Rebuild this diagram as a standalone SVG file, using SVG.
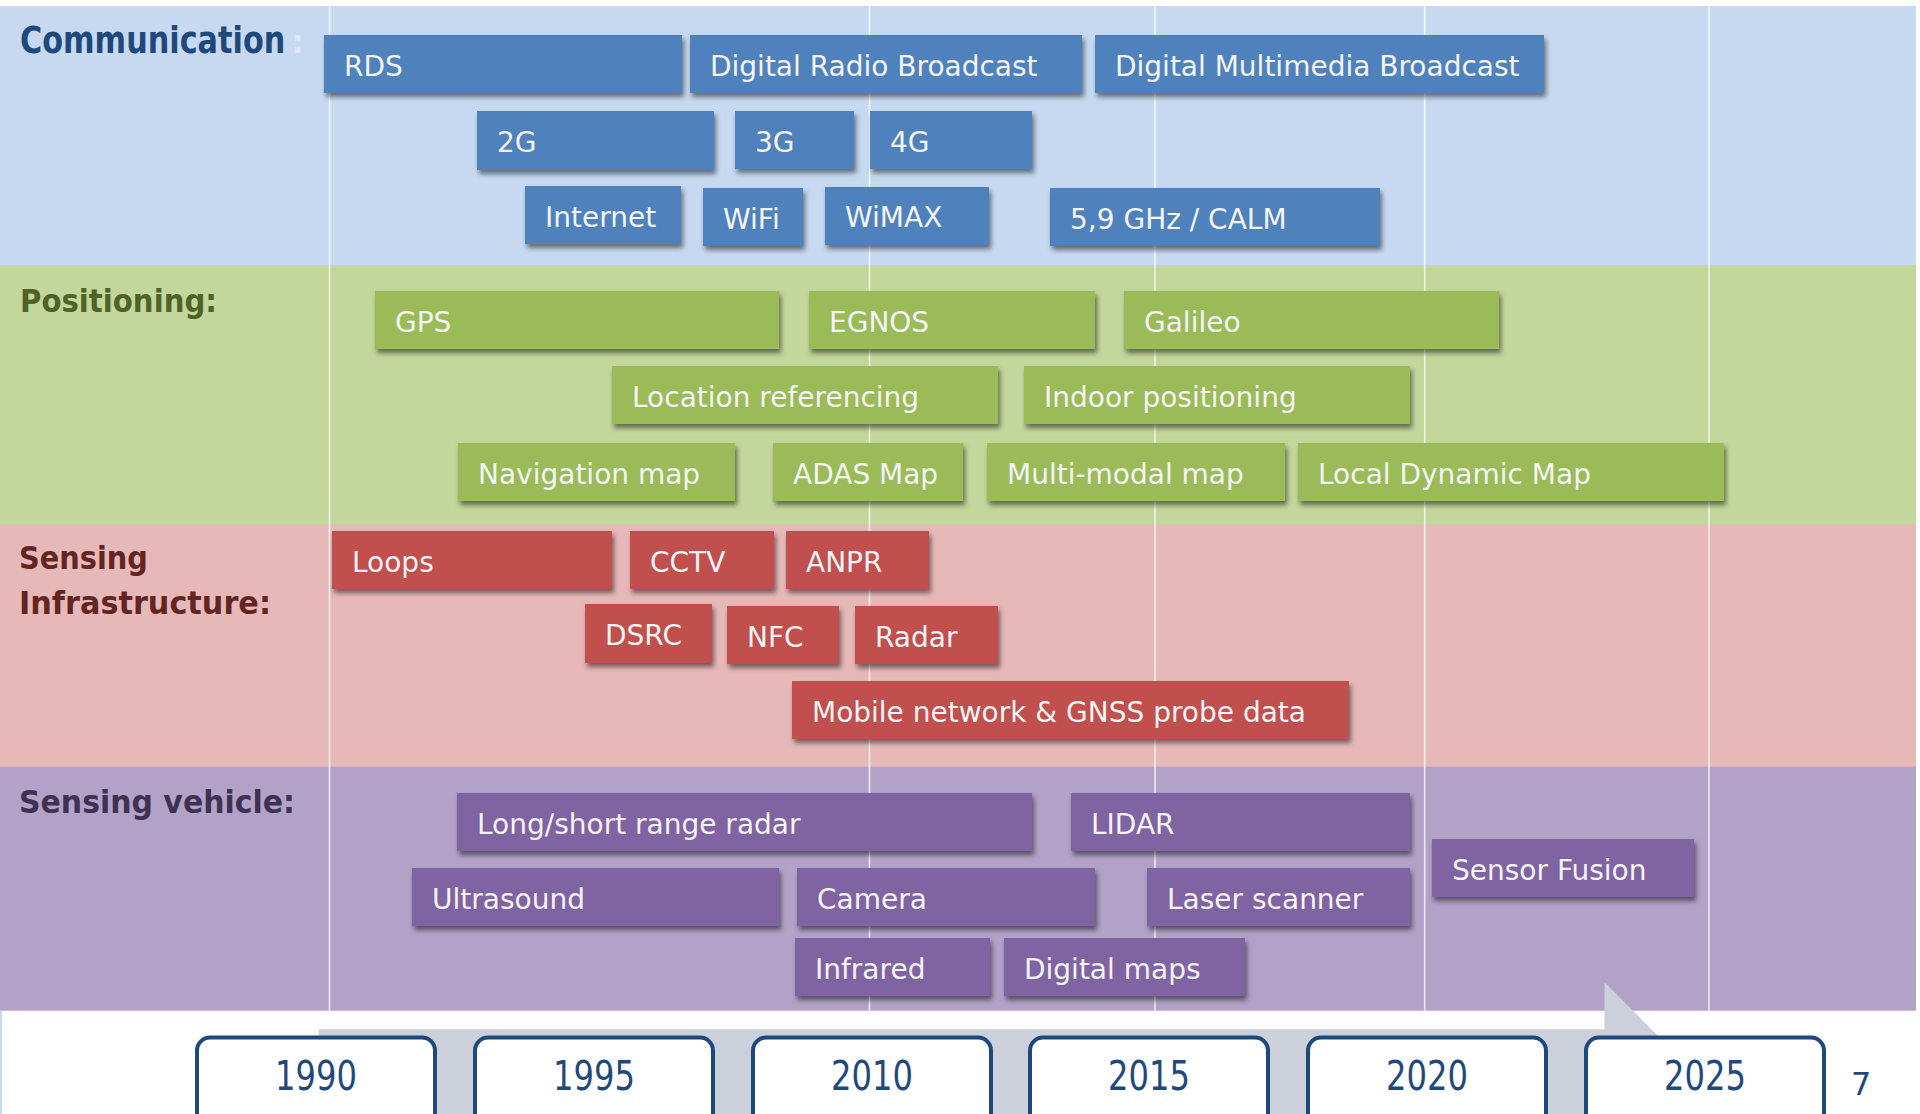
<svg xmlns="http://www.w3.org/2000/svg" width="1920" height="1114" viewBox="0 0 1920 1114">
<defs>
<filter id="sh" x="-10%" y="-20%" width="130%" height="160%">
<feDropShadow dx="2" dy="4" stdDeviation="2.5" flood-color="#000" flood-opacity="0.5"/>
</filter>
</defs>
<style>
text{font-family:"DejaVu Sans","Noto Sans",sans-serif}
.n text{font-size:28px;fill:#F4F4F4}
.n rect{filter:url(#sh)}
.c rect{fill:#4F81BD}
.p rect{fill:#9BBB59}
.s rect{fill:#C0504D}
.v rect{fill:#8064A2}
.cat{font-weight:bold;font-size:32px}
.grid line{stroke:#FFFFFF;stroke-opacity:0.75;stroke-width:1.6}
.yr rect{fill:#FFFFFF;stroke:#1F497D;stroke-width:4}
.yr text{font-size:40px;fill:#1F497D;text-anchor:middle}
</style>
<rect width="1920" height="1114" fill="#FFFFFF"/>
<g id="bands">
<rect x="0" y="6" width="1916" height="259" fill="#C6D9F0"/>
<rect x="0" y="265" width="1916" height="260" fill="#C3D69B"/>
<rect x="0" y="524.5" width="1916" height="242.5" fill="#E6B9B8"/>
<rect x="0" y="766.7" width="1916" height="244" fill="#B2A2C7"/>
<rect x="0" y="1011" width="2" height="103" fill="#C6D9F0"/>
</g>
<g class="grid" id="gridlines">
<line x1="329.5" y1="6" x2="329.5" y2="1010.7"/>
<line x1="869.5" y1="6" x2="869.5" y2="1010.7"/>
<line x1="1155" y1="6" x2="1155" y2="1010.7"/>
<line x1="1424.7" y1="6" x2="1424.7" y2="1010.7"/>
<line x1="1709" y1="6" x2="1709" y2="1010.7"/>
</g>
<g id="labels">
<text class="cat" transform="translate(20 52.5) scale(0.797 1)" x="0" y="0" fill="#1F497D" style="font-size:38px">Communication</text>
<text class="cat" x="291" y="52.5" fill="#DCE6F2">:</text>
<text class="cat" x="20" y="311.5" textLength="197" lengthAdjust="spacingAndGlyphs" fill="#4F6228">Positioning:</text>
<text class="cat" x="19" y="568.5" textLength="129" lengthAdjust="spacingAndGlyphs" fill="#632523">Sensing</text>
<text class="cat" x="19" y="613.5" textLength="252" lengthAdjust="spacingAndGlyphs" fill="#632523">Infrastructure:</text>
<text class="cat" x="19" y="813" textLength="276" lengthAdjust="spacingAndGlyphs" fill="#3F3151">Sensing vehicle:</text>
</g>
<g id="connectors">
<polygon id="timeline-arrow" points="319,1029.3 1604.5,1029.3 1604.5,982 1662,1040 1662,1114 319,1114" fill="#CBD0DA"/>
</g>
<g class="n c">
<g id="rds"><rect x="324" y="35" width="358" height="58"/><text x="344" y="76">RDS</text></g>
<g id="drb"><rect x="690" y="35" width="392" height="58"/><text x="710" y="76">Digital Radio Broadcast</text></g>
<g id="dmb"><rect x="1095" y="35" width="449" height="58"/><text x="1115" y="76">Digital Multimedia Broadcast</text></g>
<g id="g2"><rect x="477" y="111" width="237" height="59"/><text x="497" y="152">2G</text></g>
<g id="g3"><rect x="735" y="111" width="119" height="58"/><text x="755" y="152">3G</text></g>
<g id="g4"><rect x="870" y="111" width="162" height="58"/><text x="890" y="152">4G</text></g>
<g id="internet"><rect x="525" y="186" width="156" height="58"/><text x="545" y="227">Internet</text></g>
<g id="wifi"><rect x="703" y="188" width="100" height="58"/><text x="723" y="229">WiFi</text></g>
<g id="wimax"><rect x="825" y="187" width="164" height="58"/><text x="845" y="227">WiMAX</text></g>
<g id="calm"><rect x="1050" y="188" width="330" height="58"/><text x="1070" y="229">5,9 GHz / CALM</text></g>
</g>
<g class="n p">
<g id="gps"><rect x="375" y="291" width="404" height="58"/><text x="395" y="332">GPS</text></g>
<g id="egnos"><rect x="809" y="291" width="286" height="58"/><text x="829" y="332">EGNOS</text></g>
<g id="galileo"><rect x="1124" y="291" width="375" height="58"/><text x="1144" y="332">Galileo</text></g>
<g id="locref"><rect x="612" y="366" width="386" height="58"/><text x="632" y="407">Location referencing</text></g>
<g id="indoor"><rect x="1024" y="366" width="386" height="58"/><text x="1044" y="407">Indoor positioning</text></g>
<g id="navmap"><rect x="458" y="443" width="277" height="58"/><text x="478" y="484">Navigation map</text></g>
<g id="adas"><rect x="773" y="443" width="190" height="58"/><text x="793" y="484">ADAS Map</text></g>
<g id="multimodal"><rect x="987" y="443" width="298" height="58"/><text x="1007" y="484">Multi-modal map</text></g>
<g id="ldm"><rect x="1298" y="443" width="426" height="58"/><text x="1318" y="484">Local Dynamic Map</text></g>
</g>
<g class="n s">
<g id="loops"><rect x="332" y="531" width="280" height="58"/><text x="352" y="572">Loops</text></g>
<g id="cctv"><rect x="630" y="531" width="144" height="58"/><text x="650" y="572">CCTV</text></g>
<g id="anpr"><rect x="786" y="531" width="143" height="58"/><text x="806" y="572">ANPR</text></g>
<g id="dsrc"><rect x="585" y="604" width="127" height="59"/><text x="605" y="645">DSRC</text></g>
<g id="nfc"><rect x="727" y="606" width="112" height="58"/><text x="747" y="647">NFC</text></g>
<g id="radar"><rect x="855" y="606" width="143" height="58"/><text x="875" y="647">Radar</text></g>
<g id="probe"><rect x="792" y="681" width="557" height="58"/><text x="812" y="722">Mobile network &amp; GNSS probe data</text></g>
</g>
<g class="n v">
<g id="lsradar"><rect x="457" y="793" width="575" height="58"/><text x="477" y="834">Long/short range radar</text></g>
<g id="lidar"><rect x="1071" y="793" width="339" height="58"/><text x="1091" y="834">LIDAR</text></g>
<g id="fusion"><rect x="1432" y="839" width="262" height="58"/><text x="1452" y="880">Sensor Fusion</text></g>
<g id="ultrasound"><rect x="412" y="868" width="367" height="58"/><text x="432" y="909">Ultrasound</text></g>
<g id="camera"><rect x="797" y="868" width="298" height="58"/><text x="817" y="909">Camera</text></g>
<g id="laser"><rect x="1147" y="868" width="263" height="58"/><text x="1167" y="909">Laser scanner</text></g>
<g id="infrared"><rect x="795" y="938" width="195" height="58"/><text x="815" y="979">Infrared</text></g>
<g id="digmaps"><rect x="1004" y="938" width="241" height="58"/><text x="1024" y="979">Digital maps</text></g>
</g>
<g class="yr">
<g id="y1990"><rect x="197" y="1037.5" width="238" height="100" rx="13"/><text x="316" y="1090" textLength="82" lengthAdjust="spacingAndGlyphs">1990</text></g>
<g id="y1995"><rect x="475" y="1037.5" width="238" height="100" rx="13"/><text x="594" y="1090" textLength="82" lengthAdjust="spacingAndGlyphs">1995</text></g>
<g id="y2010"><rect x="753" y="1037.5" width="238" height="100" rx="13"/><text x="872" y="1090" textLength="82" lengthAdjust="spacingAndGlyphs">2010</text></g>
<g id="y2015"><rect x="1030" y="1037.5" width="238" height="100" rx="13"/><text x="1149" y="1090" textLength="82" lengthAdjust="spacingAndGlyphs">2015</text></g>
<g id="y2020"><rect x="1308" y="1037.5" width="238" height="100" rx="13"/><text x="1427" y="1090" textLength="82" lengthAdjust="spacingAndGlyphs">2020</text></g>
<g id="y2025"><rect x="1586" y="1037.5" width="238" height="100" rx="13"/><text x="1705" y="1090" textLength="82" lengthAdjust="spacingAndGlyphs">2025</text></g>
</g>
<text id="pagenum" x="1851" y="1095" font-size="32" fill="#1F497D">7</text>
</svg>
